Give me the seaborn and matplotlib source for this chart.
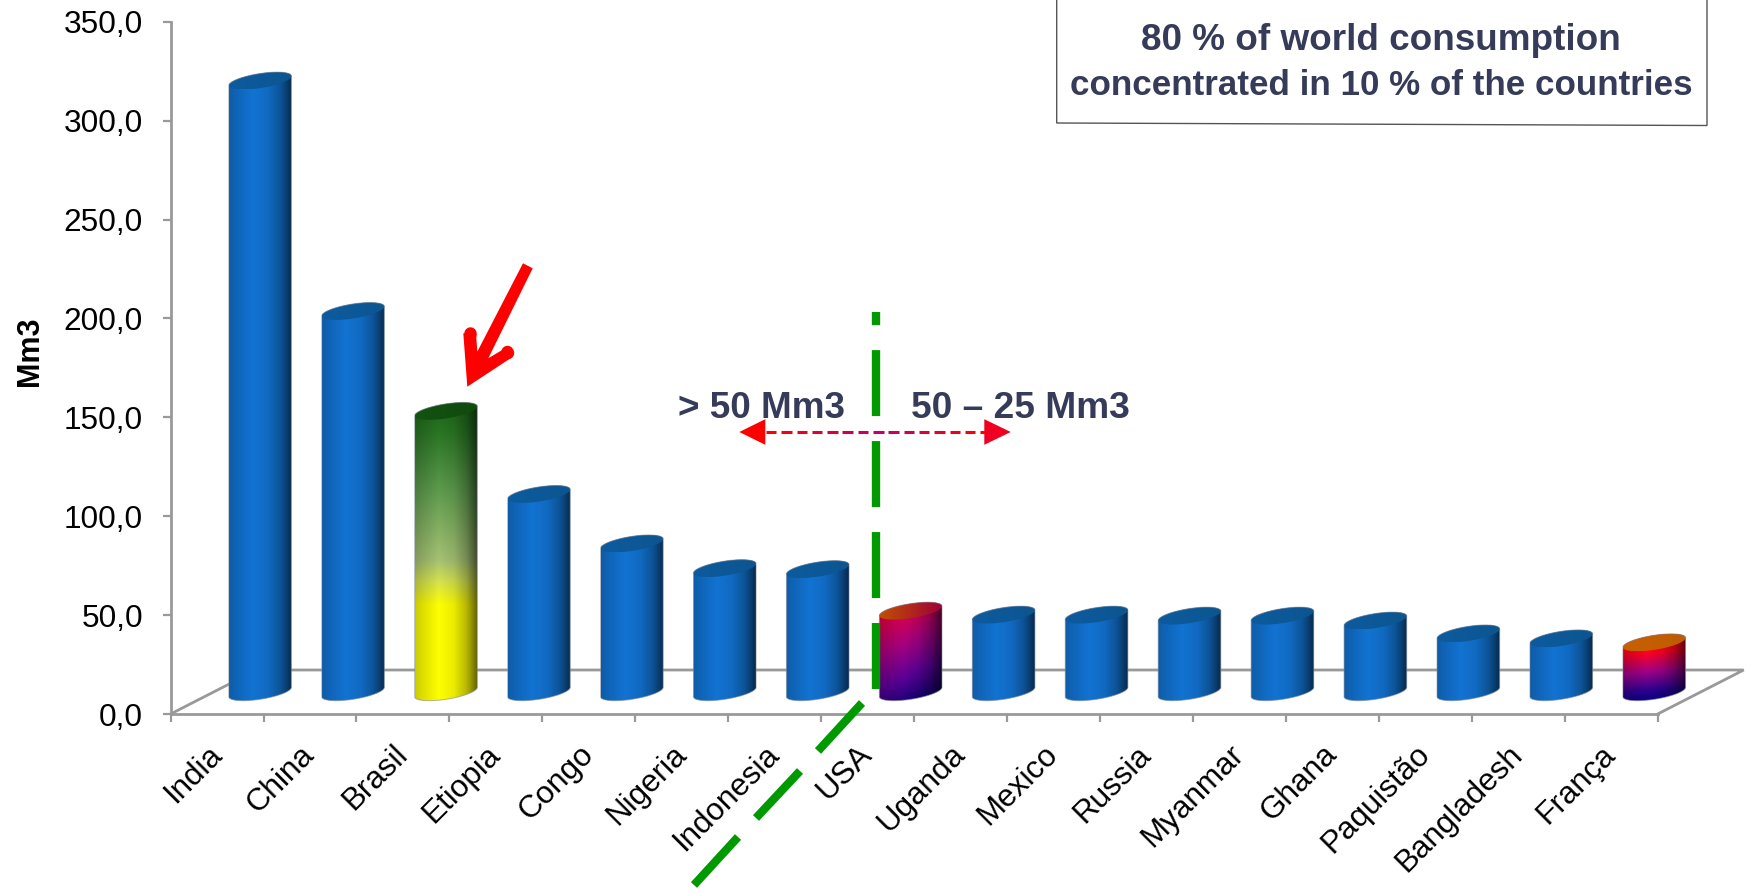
import numpy as np
import pandas as pd
import seaborn as sns
import matplotlib
matplotlib.use("Agg")
import matplotlib.pyplot as plt
from matplotlib.colors import to_rgb
from matplotlib.lines import Line2D
from matplotlib.patches import Polygon, PathPatch
from matplotlib.path import Path

countries = ["India", "China", "Brasil", "Etiopia", "Congo", "Nigeria", "Indonesia", "USA",
             "Uganda", "Mexico", "Russia", "Myanmar", "Ghana", "Paquistão", "Bangladesh", "França"]
consumption = [309, 192.5, 142, 100, 75, 62.5, 62, 41, 39, 39, 38.5, 38.5, 36, 29.5, 27, 25]
y_ticks = [0, 50, 100, 150, 200, 250, 300, 350]
y_tick_labels = ["0,0", "50,0", "100,0", "150,0", "200,0", "250,0", "300,0", "350,0"]
box_line_1 = "80 % of world consumption"
box_line_2 = "concentrated in 10 % of the countries"
left_band = "> 50 Mm3"
right_band = "50 – 25 Mm3"

W, H = 1749, 894
INK = "#353b58"
AXIS_GRAY = "#999999"
GREEN = "#009a00"

sns.set_theme(style="white")
plt.rcParams["font.family"] = ["Liberation Sans", "DejaVu Sans"]

fig = plt.figure(figsize=(W / 100, H / 100), dpi=100, facecolor="white")
AX_L, AX_R, AX_B, AX_T = 170.6, 1657.7, 714.0, 21.7
ax = fig.add_axes([AX_L / W, 1 - AX_B / H, (AX_R - AX_L) / W, (AX_B - AX_T) / H])
ax.patch.set_alpha(0)


def fx(x, y):
    """Pixel position on the canvas, measured from the top left, in figure fractions."""
    return x / W, 1 - y / H


df = pd.DataFrame({"country": countries, "value": consumption})
sns.barplot(data=df, x="country", y="value", ax=ax, width=0.675, color="#1273d2", saturation=1)
ax.set_xlim(-0.5, 15.5)
ax.set_ylim(0, 350)

PX_X = (AX_R - AX_L) / 16
PX_Y = (AX_B - AX_T) / 350
DEPTH_X, DEPTH_Y = 86 / PX_X, 44 / PX_Y  # floor depth of the pseudo-3D box, in data units

# Front edge, side edge and back wall of the floor
floor_x = [-0.5, -0.5 + DEPTH_X, 15.5 + DEPTH_X, 15.5]
floor_y = [0, DEPTH_Y, DEPTH_Y, 0]
ax.plot(floor_x, floor_y, color=AXIS_GRAY, lw=2.0, clip_on=False, zorder=1, solid_joinstyle="miter")

BLUE_STOPS = [(0, "#1273d2"), (1, "#1273d2")]
BLUE_CAP = ("#0d5b9f", "#0c5590")
BRASIL_STOPS = [(0, "#ffff00"), (0.32, "#ffff00"), (0.40, "#d5e34f"), (0.47, "#a6c274"),
                (0.70, "#5f9c4e"), (0.90, "#2a7524"), (1, "#1a6616")]
USA_STOPS = [(-0.25, "#00006a"), (0.12, "#5c0098"), (0.45, "#a50080"), (0.80, "#e00048"), (1, "#f00030")]
FRANCA_STOPS = [(-0.1, "#000078"), (0.12, "#2c0090"), (0.40, "#a00088"), (0.68, "#ff0020"), (1, "#ff2000")]
bar_styles = {
    "Brasil": (BRASIL_STOPS, ("#135210", "#114a0e"), 0.0),
    "USA": (USA_STOPS, ("#c05000", "#a00038"), 0.30),
    "França": (FRANCA_STOPS, ("#c86000", "#bf5c00"), 0.10),
}


def ramp(stops, f):
    pos = [s[0] for s in stops]
    cols = np.array([to_rgb(s[1]) for s in stops])
    return np.stack([np.interp(f, pos, cols[:, i]) for i in range(3)], axis=-1)


# Lighting across the cylinder, left edge to right edge
shade_pos = [0, 0.10, 0.38, 0.62, 0.82, 0.94, 1]
shade_val = [0.80, 0.86, 1.0, 0.92, 0.72, 0.50, 0.36]

A = 26.3 / PX_X
SKEW_X = 17.0 / PX_X
SKEW_Y = 8.7 / PX_Y
T_RIGHT = np.arctan2(SKEW_X, A)

for patch, name in zip(list(ax.patches), countries):
    patch.set_visible(False)
    value = patch.get_height()
    cx = patch.get_x() + patch.get_width() / 2 + DEPTH_X / 2
    base = DEPTH_Y / 2

    def rim(t, cy):
        return cx + np.cos(t) * A + np.sin(t) * SKEW_X, cy + np.sin(t) * SKEW_Y

    front = np.linspace(T_RIGHT + np.pi, T_RIGHT + 2 * np.pi, 60)
    back = np.linspace(T_RIGHT, T_RIGHT + np.pi, 60)
    bx, by = rim(front, base)
    tx, ty = rim(back, base + value)
    outline = np.column_stack([np.r_[bx, tx], np.r_[by, ty]])
    xmin, xmax = outline[:, 0].min(), outline[:, 0].max()
    ymin, ymax = outline[:, 1].min(), outline[:, 1].max()

    stops, cap_cols, tilt = bar_styles.get(name, (BLUE_STOPS, BLUE_CAP, 0.0))
    xf, yf = np.meshgrid(np.linspace(0, 1, 90), np.linspace(0, 1, 300))
    rgb = ramp(stops, yf - tilt * xf)
    rgb = rgb * np.interp(xf, shade_pos, shade_val)[..., None]

    body = PathPatch(Path(outline, closed=False), transform=ax.transData)
    im = ax.imshow(np.clip(rgb, 0, 1), extent=[xmin, xmax, ymin, ymax], origin="lower",
                   aspect="auto", interpolation="bilinear", zorder=3)
    im.set_clip_path(body)
    im.set_clip_box(fig.bbox)

    # Top face of the cylinder
    t_all = np.linspace(0, 2 * np.pi, 120)
    cap_x, cap_y = rim(t_all, base + value)
    cap = np.column_stack([cap_x, cap_y])
    c0, c1 = np.array(to_rgb(cap_cols[0])), np.array(to_rgb(cap_cols[1]))
    cap_grad = c0 + np.linspace(0, 1, 64)[None, :, None] * (c1 - c0)
    cap_clip = PathPatch(Path(cap, closed=False), transform=ax.transData)
    im2 = ax.imshow(cap_grad, extent=[cap_x.min(), cap_x.max(), cap_y.min(), cap_y.max()], origin="lower",
                    aspect="auto", interpolation="bilinear", zorder=4)
    im2.set_clip_path(cap_clip)
    im2.set_clip_box(fig.bbox)

    edge = Polygon(outline, closed=True, fill=False, ec="#7f8a96", lw=0.7, alpha=0.6, zorder=5, clip_on=False)
    ax.add_patch(edge)

ax.set_xlim(-0.5, 15.5)
ax.set_ylim(0, 350)

# Axes
for side in ("top", "right"):
    ax.spines[side].set_visible(False)
for side in ("left", "bottom"):
    ax.spines[side].set_color(AXIS_GRAY)
    ax.spines[side].set_linewidth(2.0)
ax.set_yticks(y_ticks)
ax.set_yticklabels(y_tick_labels, fontsize=22.8, color="black")
ax.tick_params(axis="y", direction="out", length=5.8, width=1.6, color=AXIS_GRAY, pad=14, left=True)
ax.set_xticks(range(len(countries)))
ax.set_xticklabels(countries, fontsize=22.6, color="black", rotation=45, ha="right", va="center",
                   rotation_mode="anchor")
ax.set_xticks(np.arange(-0.5, 16), minor=True)
ax.tick_params(axis="x", which="major", length=0, pad=26, bottom=False)
ax.tick_params(axis="x", which="minor", direction="out", length=5.8, width=1.6, color=AXIS_GRAY, bottom=True)
ax.set_xlabel("")
ax.set_ylabel("Mm3", fontsize=22, fontweight="bold", color="black")
ax.yaxis.set_label_coords((45 - AX_L) / (AX_R - AX_L), (AX_B - 351) / (AX_B - AX_T))


def draw_line(xs, ys, **kw):
    pts = [fx(x, y) for x, y in zip(xs, ys)]
    fig.add_artist(Line2D([p[0] for p in pts], [p[1] for p in pts], transform=fig.transFigure, **kw))


def draw_poly(pts, **kw):
    fig.add_artist(Polygon([fx(*p) for p in pts], closed=True, transform=fig.transFigure, **kw))


# Callout box, open at the top of the canvas
draw_line([1056.7, 1056.7, 1707, 1707], [0, 123, 125.5, 0], color="#555555", lw=1.0, solid_joinstyle="miter")
fig.text(*fx(1381, 50), box_line_1, fontsize=26.6, fontweight="bold", color=INK, ha="center", va="baseline")
fig.text(*fx(1381, 95), box_line_2, fontsize=25.2, fontweight="bold", color=INK, ha="center", va="baseline")

# Dashed green divider between the consumption bands
GREEN_W = 6.0
draw_line([875.6, 875.6], [689, 312], color=GREEN, lw=GREEN_W, dash_capstyle="butt",
          linestyle=(0, (47.5 / GREEN_W, 18 / GREEN_W)))
for (x0, y0, x1, y1) in [(862, 703, 818, 751), (800, 771, 756, 818), (738, 837, 694, 885)]:
    draw_line([x0, x1], [y0, y1], color=GREEN, lw=GREEN_W, solid_capstyle="butt")

# Band labels
fig.text(*fx(678, 418), left_band, fontsize=26.6, fontweight="bold", color=INK, ha="left", va="baseline")
fig.text(*fx(910.7, 418), right_band, fontsize=26.7, fontweight="bold", color=INK, ha="left", va="baseline")

# Double-headed dashed arrow fading from red to crimson in the middle
ARROW_Y = 432
red, mid = np.array(to_rgb("#ff0000")), np.array(to_rgb("#bd0070"))
for x0 in np.arange(766, 984, 15.3):
    f = 1 - abs((x0 + 5 - 875) / 110)
    draw_line([x0, min(x0 + 10.5, 985)], [ARROW_Y, ARROW_Y], color=tuple(red + (mid - red) * np.clip(f, 0, 1)),
              lw=2.2, solid_capstyle="butt")
draw_poly([(739.3, ARROW_Y), (765.3, ARROW_Y - 12.8), (765.3, ARROW_Y + 12.8)], fc="#ff0000", ec="none")
draw_poly([(1010.7, ARROW_Y), (984.3, ARROW_Y - 12.8), (984.3, ARROW_Y + 12.8)], fc="#f00020", ec="none")

# Thick red pointer above the Brasil bar
draw_poly([(523, 263.3), (532.7, 268.3), (488.3, 358.3), (506.7, 347.3), (512.5, 357), (467.3, 386.7),
           (463.3, 333.3), (476, 333.3), (477.3, 351.7)], fc="#ff0000", ec="none")
draw_line([469.7, 469.7], [333, 334], color="#ff0000", lw=9.0, solid_capstyle="round")
draw_line([507.5, 508], [352, 353], color="#ff0000", lw=9.0, solid_capstyle="round")

fig.savefig("out.png", dpi=100, facecolor="white")
